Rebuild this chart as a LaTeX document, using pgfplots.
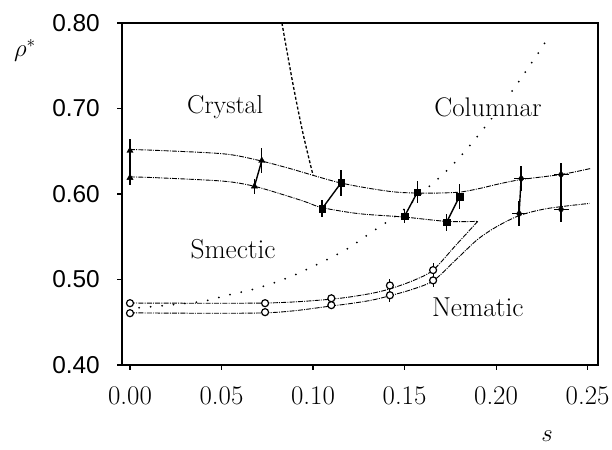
\documentclass[border=0pt]{standalone}
\usepackage{fontspec}
\usepackage{pgfplots}
\pgfplotsset{compat=1.18}
\newfontfamily\ysans{Liberation Sans}
\begin{document}
\begin{tikzpicture}
\useasboundingbox (0bp,0bp) rectangle (612bp,450bp);
\begin{axis}[
  at={(122bp,85bp)}, anchor=south west, scale only axis,
  width=476bp, height=342bp,
  xmin=-0.00437, xmax=0.2557, ymin=0.40, ymax=0.80,
  axis line style={line width=1.4bp},
  tick align=outside, xtick pos=bottom, ytick pos=left,
  major tick length=5bp, tick style={line width=1.1bp, black},
  xtick={0,0.05,0.10,0.15,0.20,0.25},
  ytick={0.4,0.5,0.6,0.7,0.8},
  xticklabels={0.00,0.05,0.10,0.15,0.20,0.25},
  yticklabels={0.40,0.50,0.60,0.70,0.80},
  xticklabel style={font=\fontsize{27}{29}\selectfont, inner sep=0pt, anchor=north, yshift=-17bp},
  yticklabel style={font=\ysans\fontsize{24.5}{26}\selectfont, inner sep=0pt, anchor=east, xshift=-17bp},
  clip=false,
  every axis plot/.append style={black},
  curve/.style={line width=0.9bp, dash pattern=on 5bp off 1.2bp on 1bp off 1.2bp, smooth, tension=0.5, no marks},
  ebar/.style={only marks, error bars/y dir=both, error bars/y explicit, error bars/error mark=none, error bars/error bar style={line width=1.4bp}},
]
% upper crystal boundary
\addplot[curve] coordinates {(0,0.652) (0.015,0.651) (0.051,0.647) (0.069,0.640) (0.087,0.630) (0.115,0.613) (0.142,0.603) (0.160,0.601) (0.179,0.602) (0.190,0.606) (0.202,0.612) (0.214,0.617) (0.236,0.623) (0.252,0.630)};
% lower crystal boundary
\addplot[curve] coordinates {(0,0.620) (0.015,0.619) (0.051,0.615) (0.068,0.609) (0.087,0.597) (0.097,0.590) (0.105,0.584) (0.125,0.577) (0.150,0.573) (0.173,0.568) (0.190,0.568)};
% upper nematic boundary
\addplot[curve] coordinates {(0,0.4725) (0.074,0.4725) (0.110,0.477) (0.130,0.483) (0.142,0.489) (0.155,0.499) (0.1656,0.511) (0.178,0.540) (0.190,0.568)};
% lower nematic boundary
\addplot[curve] coordinates {(0,0.461) (0.074,0.461) (0.110,0.469) (0.130,0.475) (0.142,0.481) (0.155,0.489) (0.166,0.499) (0.179,0.525) (0.190,0.547) (0.2005,0.562) (0.213,0.575) (0.228,0.583) (0.251,0.589)};
% dashed line
\addplot[line width=1.3bp, dash pattern=on 3bp off 2bp, smooth] coordinates {(0.083,0.800) (0.089,0.729) (0.0945,0.671) (0.100,0.622)};
% dotted line
\addplot[line width=2bp, line cap=round, dash pattern=on 0bp off 11.5bp, smooth] coordinates {(0.005,0.467) (0.021,0.470) (0.040,0.4746) (0.053,0.4816) (0.0656,0.4875) (0.078,0.4956) (0.0907,0.506) (0.108,0.5236) (0.120,0.5376) (0.131,0.554) (0.1475,0.578) (0.162,0.606) (0.172,0.625) (0.1814,0.646) (0.190,0.668) (0.200,0.695) (0.210,0.724) (0.2175,0.7475) (0.225,0.771) (0.2295,0.787)};
% solid connectors
\addplot[line width=1.4bp] coordinates {(0,0.6507) (0,0.619)};
\addplot[line width=1.4bp] coordinates {(0.068,0.609) (0.072,0.639)};
\addplot[line width=1.4bp] coordinates {(0.105,0.583) (0.1153,0.613)};
\addplot[line width=1.4bp] coordinates {(0.150,0.574) (0.157,0.602)};
\addplot[line width=1.4bp] coordinates {(0.173,0.567) (0.180,0.597)};
\addplot[line width=1.4bp] coordinates {(0.2137,0.618) (0.2126,0.577)};
\addplot[line width=1.4bp] coordinates {(0.2355,0.6227) (0.2355,0.582)};
% triangles
\addplot[ebar, mark=triangle*, mark size=3.6bp] coordinates {(0,0.6507) +- (0,0.014) (0,0.619) +- (0,0.009) (0.072,0.639) +- (0,0.015) (0.068,0.609) +- (0,0.009)};
% squares
\addplot[ebar, mark=square*, mark size=3.3bp] coordinates {(0.1153,0.613) +- (0,0.015) (0.105,0.583) +- (0,0.010) (0.157,0.602) +- (0,0.013) (0.150,0.574) +- (0,0.008) (0.180,0.597) +- (0,0.015) (0.173,0.567) +- (0,0.010)};
% diamonds with crossbar
\addplot[ebar, mark=-, mark size=7.5bp, mark options={line width=1.4bp}] coordinates {(0.2137,0.618) +- (0,0.015) (0.2126,0.577) +- (0,0.015) (0.2355,0.6227) +- (0,0.014) (0.2355,0.582) +- (0,0.015)};
\addplot[only marks, mark=diamond*, mark size=3.6bp] coordinates {(0.2137,0.618) (0.2126,0.577) (0.2355,0.6227) (0.2355,0.582)};
% circles
\addplot[ebar, mark=*, mark size=3.5bp, mark options={fill=white, draw=black, line width=1.2bp}, error bars/error bar style={line width=1bp}] coordinates {(0,0.4723) +- (0,0) (0,0.4606) +- (0,0) (0.0738,0.4723) +- (0,0) (0.0738,0.4618) +- (0,0) (0.110,0.478) +- (0,0.005) (0.110,0.470) +- (0,0.005) (0.142,0.493) +- (0,0.008) (0.142,0.4816) +- (0,0.008) (0.1656,0.511) +- (0,0.008) (0.1656,0.499) +- (0,0.008)};
% region labels
\node[font=\fontsize{26}{28}\selectfont] at (axis cs:0.052,0.702) {Crystal};
\node[font=\fontsize{27}{29}\selectfont, fill=white, inner sep=1bp] at (axis cs:0.1956,0.701) {Columnar};
\node[font=\fontsize{27.5}{29}\selectfont] at (axis cs:0.0563,0.536) {Smectic};
\node[font=\fontsize{27.5}{29}\selectfont] at (axis cs:0.190,0.4676) {Nematic};
\end{axis}
\node[font=\fontsize{26}{28}\selectfont] at (25bp,400bp) {$\rho^*$};
\node[font=\fontsize{23}{25}\selectfont] at (547bp,14bp) {$s$};
\end{tikzpicture}
\end{document}
